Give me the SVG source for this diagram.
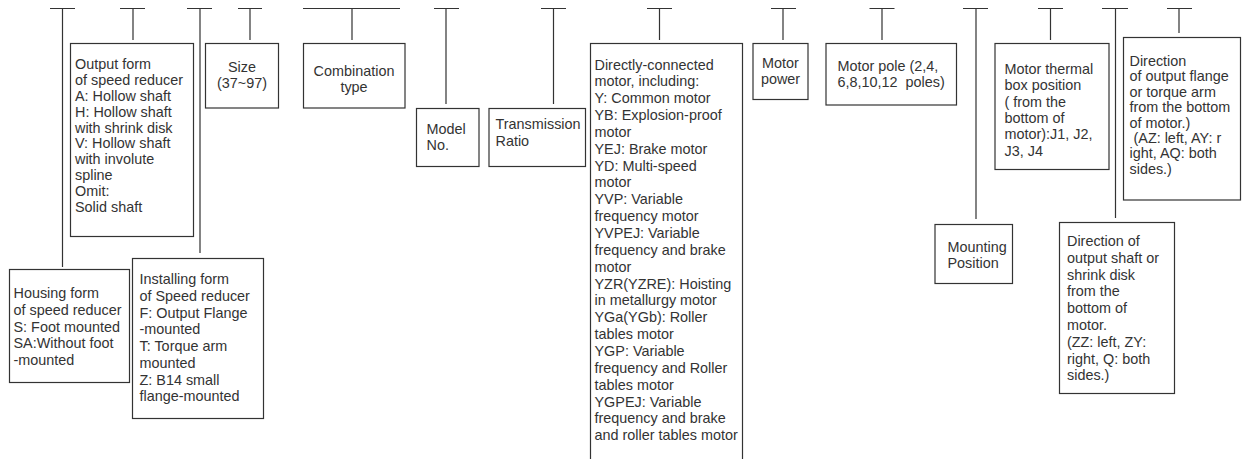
<svg xmlns="http://www.w3.org/2000/svg" width="1245" height="459" viewBox="0 0 1245 459">
<style>
.bx{fill:#fff;stroke:#333;stroke-width:1.2}
.ln{fill:none;stroke:#333;stroke-width:1.2}
text{font-family:"Liberation Sans",Arial,sans-serif;font-size:14.4px;fill:#333;white-space:pre}
.c{text-anchor:middle}
</style>
<rect width="1245" height="459" fill="#fff"/>
<g id="connectors">
<path class="ln" d="M50 8.5H75M62.5 8.5V267"/>
<path class="ln" d="M120 8.5H145M133 8.5V40"/>
<path class="ln" d="M187 8.5H212M200 8.5V253"/>
<path class="ln" d="M238 8.5H262M250 8.5V40"/>
<path class="ln" d="M303 8.5H400M352 8.5V40"/>
<path class="ln" d="M434 8.5H459M446 8.5V104"/>
<path class="ln" d="M541 8.5H566M553.5 8.5V104"/>
<path class="ln" d="M647 8.5H672M659.5 8.5V40"/>
<path class="ln" d="M771 8.5H796M783 8.5V40"/>
<path class="ln" d="M869.5 8.5H894.5M882 8.5V40"/>
<path class="ln" d="M963 8.5H988M976 8.5V219"/>
<path class="ln" d="M1038 8.5H1063M1050.5 8.5V40"/>
<path class="ln" d="M1102 8.5H1128M1115.5 8.5V218"/>
<path class="ln" d="M1167 8.5H1192M1179 8.5V33"/>
</g>
<g id="housing">
<rect class="bx" x="9.5" y="269.5" width="120" height="113"/>
<text><tspan x="13.5" y="298.3">Housing form</tspan><tspan x="13.5" y="315">of speed reducer</tspan><tspan x="13.5" y="331.7">S: Foot mounted</tspan><tspan x="13.5" y="348.4">SA:Without foot</tspan><tspan x="13.5" y="365.1">-mounted</tspan></text>
</g>
<g id="output-form">
<rect class="bx" x="70.5" y="43.5" width="123" height="193"/>
<text><tspan x="75" y="69.3">Output form</tspan><tspan x="75" y="85.1">of speed reducer</tspan><tspan x="75" y="100.9">A: Hollow shaft</tspan><tspan x="75" y="116.7">H: Hollow shaft</tspan><tspan x="75" y="132.5">with shrink disk</tspan><tspan x="75" y="148.3">V: Hollow shaft</tspan><tspan x="75" y="164.1">with involute</tspan><tspan x="75" y="179.9">spline</tspan><tspan x="75" y="195.7">Omit:</tspan><tspan x="75" y="211.5">Solid shaft</tspan></text>
</g>
<g id="installing">
<rect class="bx" x="132.5" y="258.5" width="131" height="160"/>
<text><tspan x="139.5" y="284.3">Installing form</tspan><tspan x="139.5" y="301">of Speed reducer</tspan><tspan x="139.5" y="317.7">F: Output Flange</tspan><tspan x="139.5" y="334.4">-mounted</tspan><tspan x="139.5" y="351.1">T: Torque arm</tspan><tspan x="139.5" y="367.8">mounted</tspan><tspan x="139.5" y="384.5">Z: B14 small</tspan><tspan x="139.5" y="401.2">flange-mounted</tspan></text>
</g>
<g id="size">
<rect class="bx" x="205.5" y="43.5" width="73" height="64.5"/>
<text class="c"><tspan x="242" y="71.7">Size</tspan><tspan x="242" y="88.3">(37~97)</tspan></text>
</g>
<g id="combination">
<rect class="bx" x="303.5" y="43.5" width="101.5" height="64.5"/>
<text class="c"><tspan x="354" y="76">Combination</tspan><tspan x="354" y="92">type</tspan></text>
</g>
<g id="model">
<rect class="bx" x="416.5" y="108.5" width="62.5" height="58"/>
<text><tspan x="426.5" y="134.3">Model</tspan><tspan x="426.5" y="150">No.</tspan></text>
</g>
<g id="transmission">
<rect class="bx" x="489" y="108.5" width="96.5" height="58"/>
<text><tspan x="495.5" y="129.3">Transmission</tspan><tspan x="495.5" y="145.7">Ratio</tspan></text>
</g>
<g id="motor-type">
<rect class="bx" x="590.5" y="43.5" width="152" height="430"/>
<text><tspan x="594.5" y="69.5">Directly-connected</tspan><tspan x="594.5" y="86.35">motor, including:</tspan><tspan x="594.5" y="103.2">Y: Common motor</tspan><tspan x="594.5" y="120.05">YB: Explosion-proof</tspan><tspan x="594.5" y="136.9">motor</tspan><tspan x="594.5" y="153.75">YEJ: Brake motor</tspan><tspan x="594.5" y="170.6">YD: Multi-speed</tspan><tspan x="594.5" y="187.45">motor</tspan><tspan x="594.5" y="204.3">YVP: Variable</tspan><tspan x="594.5" y="221.15">frequency motor</tspan><tspan x="594.5" y="238">YVPEJ: Variable</tspan><tspan x="594.5" y="254.85">frequency and brake</tspan><tspan x="594.5" y="271.7">motor</tspan><tspan x="594.5" y="288.55">YZR(YZRE): Hoisting</tspan><tspan x="594.5" y="305.4">in metallurgy motor</tspan><tspan x="594.5" y="322.25">YGa(YGb): Roller</tspan><tspan x="594.5" y="339.1">tables motor</tspan><tspan x="594.5" y="355.95">YGP: Variable</tspan><tspan x="594.5" y="372.8">frequency and Roller</tspan><tspan x="594.5" y="389.65">tables motor</tspan><tspan x="594.5" y="406.5">YGPEJ: Variable</tspan><tspan x="594.5" y="423.35">frequency and brake</tspan><tspan x="594.5" y="440.2">and roller tables motor</tspan></text>
</g>
<g id="motor-power">
<rect class="bx" x="753" y="43.5" width="55" height="56"/>
<text class="c"><tspan x="780.5" y="68.3">Motor</tspan><tspan x="780.5" y="84">power</tspan></text>
</g>
<g id="motor-pole">
<rect class="bx" x="826" y="43.5" width="130.5" height="61.5"/>
<text><tspan x="837.5" y="71">Motor pole (2,4,</tspan><tspan x="837.5" y="87.3">6,8,10,12  poles)</tspan></text>
</g>
<g id="mounting">
<rect class="bx" x="935" y="224.5" width="77.5" height="59"/>
<text><tspan x="947.5" y="251.7">Mounting</tspan><tspan x="947.5" y="268.3">Position</tspan></text>
</g>
<g id="thermal-box">
<rect class="bx" x="995" y="43.5" width="114" height="126"/>
<text><tspan x="1004.5" y="74">Motor thermal</tspan><tspan x="1004.5" y="90.3">box position</tspan><tspan x="1004.5" y="106.6">( from the</tspan><tspan x="1004.5" y="122.9">bottom of</tspan><tspan x="1004.5" y="139.2">motor):J1, J2,</tspan><tspan x="1004.5" y="155.5">J3, J4</tspan></text>
</g>
<g id="shaft-direction">
<rect class="bx" x="1059.5" y="222.5" width="115" height="171"/>
<text><tspan x="1067" y="246">Direction of</tspan><tspan x="1067" y="262.8">output shaft or</tspan><tspan x="1067" y="279.6">shrink disk</tspan><tspan x="1067" y="296.4">from the</tspan><tspan x="1067" y="313.2">bottom of</tspan><tspan x="1067" y="330">motor.</tspan><tspan x="1067" y="346.8">(ZZ: left, ZY:</tspan><tspan x="1067" y="363.6">right, Q: both</tspan><tspan x="1067" y="380.4">sides.)</tspan></text>
</g>
<g id="flange-direction">
<rect class="bx" x="1123.5" y="37.5" width="117" height="162.5"/>
<text><tspan x="1129.5" y="66">Direction</tspan><tspan x="1129.5" y="81.4">of output flange</tspan><tspan x="1129.5" y="96.8">or torque arm</tspan><tspan x="1129.5" y="112.2">from the bottom</tspan><tspan x="1129.5" y="127.6">of motor.)</tspan><tspan x="1129.5" y="143"> (AZ: left, AY: r</tspan><tspan x="1129.5" y="158.4">ight, AQ: both</tspan><tspan x="1129.5" y="173.8">sides.)</tspan></text>
</g>
</svg>
